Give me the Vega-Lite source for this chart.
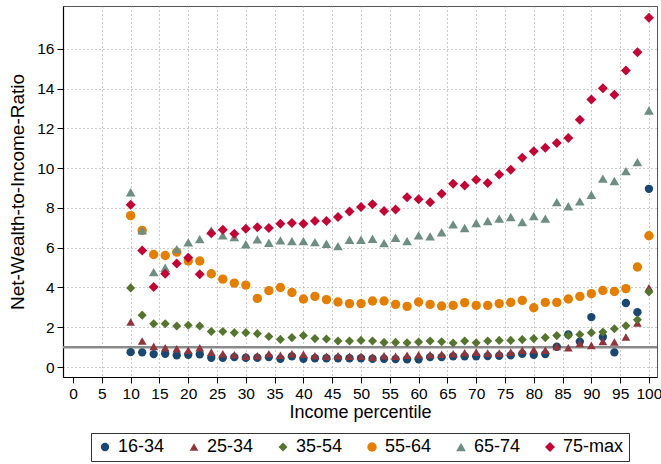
{
  "$schema": "https://vega.github.io/schema/vega-lite/v6.json",
  "width": 594,
  "height": 371,
  "autosize": {"type": "none"},
  "padding": {"left": 63, "top": 6, "right": 4, "bottom": 87},
  "background": "white",
  "config": {
    "font": "Liberation Sans",
    "view": {"stroke": "#555", "strokeWidth": 1},
    "axis": {
      "domainColor": "#000",
      "domainWidth": 1.2,
      "tickColor": "#000",
      "tickSize": 6,
      "labelColor": "#000",
      "labelFontSize": 15.5,
      "titleColor": "#000",
      "titleFontSize": 18,
      "titleFontWeight": "normal",
      "gridColor": "#999",
      "gridDash": [1, 3],
      "gridWidth": 1
    }
  },
  "layer": [
    {
      "data": {"values": [{"level": 1}]},
      "mark": {"type": "rule", "color": "#8a8a8a", "strokeWidth": 2.5},
      "encoding": {
        "y": {"field": "level", "type": "quantitative", "scale": {"domain": [-0.5, 18.15], "nice": false, "zero": false}}
      }
    },
    {
      "data": {
        "values": [
          {"p": 10, "16-34": 0.75, "25-34": 2.26, "35-54": 3.98, "55-64": 7.61, "65-74": 8.79, "75-max": 8.16},
          {"p": 12, "16-34": 0.74, "25-34": 1.31, "35-54": 2.61, "55-64": 6.87, "65-74": 6.87, "75-max": 5.86},
          {"p": 14, "16-34": 0.65, "25-34": 1.04, "35-54": 2.18, "55-64": 5.66, "65-74": 4.77, "75-max": 4.02},
          {"p": 16, "16-34": 0.67, "25-34": 0.97, "35-54": 2.18, "55-64": 5.61, "65-74": 4.99, "75-max": 4.69},
          {"p": 18, "16-34": 0.59, "25-34": 0.92, "35-54": 2.06, "55-64": 5.78, "65-74": 5.93, "75-max": 5.2},
          {"p": 20, "16-34": 0.62, "25-34": 0.84, "35-54": 2.1, "55-64": 5.33, "65-74": 6.27, "75-max": 5.5},
          {"p": 22, "16-34": 0.64, "25-34": 0.97, "35-54": 2.06, "55-64": 5.33, "65-74": 6.43, "75-max": 4.66},
          {"p": 24, "16-34": 0.47, "25-34": 0.75, "35-54": 1.79, "55-64": 4.69, "65-74": 6.87, "75-max": 6.73},
          {"p": 26, "16-34": 0.47, "25-34": 0.67, "35-54": 1.79, "55-64": 4.42, "65-74": 6.62, "75-max": 6.9},
          {"p": 28, "16-34": 0.5, "25-34": 0.62, "35-54": 1.73, "55-64": 4.22, "65-74": 6.53, "75-max": 6.7},
          {"p": 30, "16-34": 0.47, "25-34": 0.54, "35-54": 1.73, "55-64": 4.12, "65-74": 6.17, "75-max": 6.95},
          {"p": 32, "16-34": 0.47, "25-34": 0.57, "35-54": 1.68, "55-64": 3.45, "65-74": 6.42, "75-max": 7.03},
          {"p": 34, "16-34": 0.5, "25-34": 0.67, "35-54": 1.54, "55-64": 3.84, "65-74": 6.25, "75-max": 6.99},
          {"p": 36, "16-34": 0.42, "25-34": 0.59, "35-54": 1.39, "55-64": 4.0, "65-74": 6.37, "75-max": 7.2},
          {"p": 38, "16-34": 0.54, "25-34": 0.67, "35-54": 1.48, "55-64": 3.75, "65-74": 6.33, "75-max": 7.24},
          {"p": 40, "16-34": 0.42, "25-34": 0.64, "35-54": 1.59, "55-64": 3.42, "65-74": 6.33, "75-max": 7.2},
          {"p": 42, "16-34": 0.44, "25-34": 0.57, "35-54": 1.43, "55-64": 3.55, "65-74": 6.28, "75-max": 7.34},
          {"p": 44, "16-34": 0.44, "25-34": 0.54, "35-54": 1.41, "55-64": 3.39, "65-74": 6.2, "75-max": 7.34},
          {"p": 46, "16-34": 0.44, "25-34": 0.57, "35-54": 1.31, "55-64": 3.27, "65-74": 6.08, "75-max": 7.54},
          {"p": 48, "16-34": 0.44, "25-34": 0.54, "35-54": 1.31, "55-64": 3.19, "65-74": 6.4, "75-max": 7.82},
          {"p": 50, "16-34": 0.44, "25-34": 0.54, "35-54": 1.34, "55-64": 3.19, "65-74": 6.4, "75-max": 8.04},
          {"p": 52, "16-34": 0.42, "25-34": 0.5, "35-54": 1.31, "55-64": 3.32, "65-74": 6.45, "75-max": 8.18},
          {"p": 54, "16-34": 0.42, "25-34": 0.57, "35-54": 1.24, "55-64": 3.32, "65-74": 6.23, "75-max": 7.84},
          {"p": 56, "16-34": 0.4, "25-34": 0.54, "35-54": 1.24, "55-64": 3.15, "65-74": 6.5, "75-max": 7.92},
          {"p": 58, "16-34": 0.39, "25-34": 0.59, "35-54": 1.22, "55-64": 3.05, "65-74": 6.33, "75-max": 8.54},
          {"p": 60, "16-34": 0.39, "25-34": 0.62, "35-54": 1.26, "55-64": 3.27, "65-74": 6.62, "75-max": 8.43},
          {"p": 62, "16-34": 0.5, "25-34": 0.62, "35-54": 1.31, "55-64": 3.15, "65-74": 6.57, "75-max": 8.29},
          {"p": 64, "16-34": 0.5, "25-34": 0.64, "35-54": 1.27, "55-64": 3.07, "65-74": 6.78, "75-max": 8.71},
          {"p": 66, "16-34": 0.54, "25-34": 0.67, "35-54": 1.21, "55-64": 3.1, "65-74": 7.17, "75-max": 9.22},
          {"p": 68, "16-34": 0.54, "25-34": 0.72, "35-54": 1.31, "55-64": 3.24, "65-74": 6.99, "75-max": 9.13},
          {"p": 70, "16-34": 0.54, "25-34": 0.75, "35-54": 1.22, "55-64": 3.1, "65-74": 7.24, "75-max": 9.42},
          {"p": 72, "16-34": 0.55, "25-34": 0.7, "35-54": 1.31, "55-64": 3.1, "65-74": 7.34, "75-max": 9.25},
          {"p": 74, "16-34": 0.57, "25-34": 0.7, "35-54": 1.34, "55-64": 3.19, "65-74": 7.46, "75-max": 9.68},
          {"p": 76, "16-34": 0.59, "25-34": 0.75, "35-54": 1.34, "55-64": 3.25, "65-74": 7.54, "75-max": 9.92},
          {"p": 78, "16-34": 0.67, "25-34": 0.84, "35-54": 1.38, "55-64": 3.35, "65-74": 7.29, "75-max": 10.52},
          {"p": 80, "16-34": 0.62, "25-34": 0.87, "35-54": 1.43, "55-64": 2.98, "65-74": 7.59, "75-max": 10.85},
          {"p": 82, "16-34": 0.65, "25-34": 0.84, "35-54": 1.48, "55-64": 3.25, "65-74": 7.46, "75-max": 11.02},
          {"p": 84, "16-34": 1.02, "25-34": 1.04, "35-54": 1.58, "55-64": 3.25, "65-74": 8.29, "75-max": 11.26},
          {"p": 86, "16-34": 1.64, "25-34": 0.97, "35-54": 1.59, "55-64": 3.42, "65-74": 8.08, "75-max": 11.51},
          {"p": 88, "16-34": 1.28, "25-34": 1.18, "35-54": 1.64, "55-64": 3.55, "65-74": 8.33, "75-max": 12.43},
          {"p": 90, "16-34": 2.51, "25-34": 1.09, "35-54": 1.73, "55-64": 3.69, "65-74": 8.66, "75-max": 13.45},
          {"p": 92, "16-34": 1.51, "25-34": 1.29, "35-54": 1.76, "55-64": 3.85, "65-74": 9.47, "75-max": 14.02},
          {"p": 94, "16-34": 0.74, "25-34": 1.26, "35-54": 1.93, "55-64": 3.8, "65-74": 9.35, "75-max": 13.69},
          {"p": 96, "16-34": 3.22, "25-34": 1.51, "35-54": 2.08, "55-64": 3.94, "65-74": 9.85, "75-max": 14.91},
          {"p": 98, "16-34": 2.76, "25-34": 2.21, "35-54": 2.38, "55-64": 5.03, "65-74": 10.3, "75-max": 15.83},
          {"p": 100, "16-34": 8.96, "25-34": 3.99, "35-54": 3.77, "55-64": 6.6, "65-74": 12.9, "75-max": 17.56}
        ]
      },
      "transform": [
        {"fold": ["16-34", "25-34", "35-54", "55-64", "65-74", "75-max"], "as": ["group", "ratio"]}
      ],
      "mark": {"type": "point", "filled": true, "opacity": 1, "strokeWidth": 0},
      "encoding": {
        "x": {
          "field": "p",
          "type": "quantitative",
          "title": "Income percentile",
          "scale": {"domain": [-1.75, 101.4], "nice": false, "zero": false},
          "axis": {
            "values": [0, 5, 10, 15, 20, 25, 30, 35, 40, 45, 50, 55, 60, 65, 70, 75, 80, 85, 90, 95, 100],
            "labelPadding": 3,
            "titlePadding": 2,
            "gridOpacity": {"condition": {"test": "datum.value === 0", "value": 0}, "value": 1}
          }
        },
        "y": {
          "field": "ratio",
          "type": "quantitative",
          "title": "Net-Wealth-to-Income-Ratio",
          "scale": {"domain": [-0.5, 18.15], "nice": false, "zero": false},
          "axis": {
            "values": [0, 2, 4, 6, 8, 10, 12, 14, 16],
            "labelPadding": 3,
            "titlePadding": 9,
            "titleFontSize": 19
          }
        },
        "color": {
          "field": "group",
          "type": "nominal",
          "scale": {
            "domain": ["16-34", "25-34", "35-54", "55-64", "65-74", "75-max"],
            "range": ["#1a476f", "#90353b", "#55752f", "#e37e00", "#6e8e84", "#c10534"]
          },
          "legend": {
            "orient": "none",
            "legendX": 28,
            "legendY": 427,
            "direction": "horizontal",
            "columns": 6,
            "gridAlign": "all",
            "columnPadding": 6,
            "strokeColor": "#333",
            "fillColor": "white",
            "padding": 5,
            "labelFontSize": 18,
            "labelColor": "#000",
            "labelOffset": 4,
            "symbolSize": 55,
            "title": null
          }
        },
        "shape": {
          "field": "group",
          "type": "nominal",
          "scale": {
            "domain": ["16-34", "25-34", "35-54", "55-64", "65-74", "75-max"],
            "range": ["circle", "triangle-up", "diamond", "circle", "triangle-up", "diamond"]
          },
          "legend": {
            "orient": "none",
            "legendX": 28,
            "legendY": 427,
            "direction": "horizontal",
            "columns": 6,
            "gridAlign": "all",
            "columnPadding": 6,
            "strokeColor": "#333",
            "fillColor": "white",
            "padding": 5,
            "labelFontSize": 18,
            "labelColor": "#000",
            "labelOffset": 4,
            "symbolSize": 55,
            "title": null
          }
        },
        "size": {
          "field": "group",
          "type": "nominal",
          "legend": null,
          "scale": {
            "domain": ["16-34", "25-34", "35-54", "55-64", "65-74", "75-max"],
            "range": [70, 100, 110, 105, 140, 145]
          }
        }
      }
    }
  ]
}
